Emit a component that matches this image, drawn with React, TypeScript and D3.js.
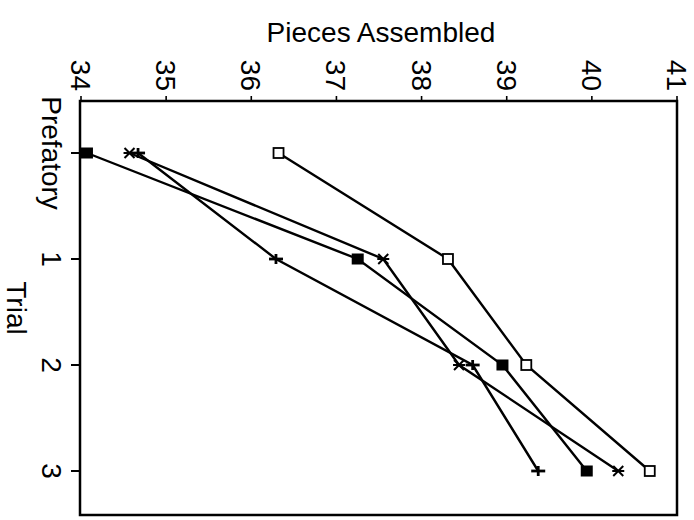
import React from "react";
import * as d3 from "d3";

const trials = ["Prefatory", "1", "2", "3"];
const valueTicks = [34, 35, 36, 37, 38, 39, 40, 41];
const openSquare = [36.32, 38.31, 39.23, 40.68];
const filledSquare = [34.07, 37.25, 38.95, 39.94];
const asterisk = [34.57, 37.55, 38.44, 40.31];
const plus = [34.67, 36.29, 38.6, 39.37];

const W = 694;
const H = 520;
const FONT = "'Liberation Sans', Arial, Helvetica, sans-serif";

export default function App() {
  const frame = { left: 80, right: 677, top: 101, bottom: 515 };
  const x = d3.scaleLinear().domain([34, 41]).range([81, 677]);
  const y = d3.scaleLinear().domain([0, 3]).range([153, 471]);

  const line = d3
    .line<number>()
    .x((d) => x(d))
    .y((_, i) => y(i));

  const series = [
    { key: "open", data: openSquare },
    { key: "filled", data: filledSquare },
    { key: "ast", data: asterisk },
    { key: "plus", data: plus },
  ];

  const marker = (key: string, cx: number, cy: number, k: string) => {
    if (key === "open")
      return (
        <rect key={k} x={cx - 5} y={cy - 5} width={10} height={10} fill="#fff" stroke="#000" strokeWidth={1.8} />
      );
    if (key === "filled")
      return <rect key={k} x={cx - 6} y={cy - 5.5} width={12} height={11} fill="#000" />;
    if (key === "ast")
      return (
        <g key={k} stroke="#000" strokeWidth={2}>
          <line x1={cx - 5} y1={cy - 5} x2={cx + 5} y2={cy + 5} />
          <line x1={cx - 5} y1={cy + 5} x2={cx + 5} y2={cy - 5} />
          <line x1={cx - 6} y1={cy} x2={cx + 6} y2={cy} />
        </g>
      );
    return (
      <g key={k} stroke="#000" strokeWidth={2.8}>
        <line x1={cx - 7} y1={cy} x2={cx + 7} y2={cy} />
        <line x1={cx} y1={cy - 5} x2={cx} y2={cy + 5} />
      </g>
    );
  };

  return (
    <svg
      width={W}
      height={H}
      style={{ position: "absolute", left: 0, top: 0, background: "#fff" }}
      fontFamily={FONT}
    >
      <rect x={0} y={0} width={W} height={H} fill="#fff" />
      {/* title */}
      <text x={381} y={42} fontSize={28} textAnchor="middle" fill="#000">
        Pieces Assembled
      </text>
      {/* frame */}
      <rect
        x={frame.left}
        y={frame.top}
        width={frame.right - frame.left}
        height={frame.bottom - frame.top}
        fill="none"
        stroke="#000"
        strokeWidth={2.5}
      />
      {/* value ticks */}
      {valueTicks.map((t) => (
        <g key={"v" + t}>
          <line x1={x(t)} x2={x(t)} y1={frame.top} y2={frame.top - 5} stroke="#000" strokeWidth={1.6} />
          <text
            transform={`translate(${x(t) - 10},${frame.top - 10}) rotate(90)`}
            fontSize={28}
            textAnchor="end"
            fill="#000"
          >
            {t}
          </text>
        </g>
      ))}
      {/* category ticks */}
      {trials.map((c, i) => (
        <g key={"c" + i}>
          <line x1={frame.left} x2={frame.left - 9} y1={y(i)} y2={y(i)} stroke="#000" strokeWidth={2} />
          <text
            transform={`translate(42,${y(i)}) rotate(90)`}
            fontSize={28}
            textAnchor="middle"
            fill="#000"
          >
            {c}
          </text>
        </g>
      ))}
      <text transform={`translate(7,308) rotate(90)`} fontSize={28} textAnchor="middle" fill="#000">
        Trial
      </text>
      {/* lines */}
      {series.map((s) => (
        <path key={"l" + s.key} d={line(s.data) || ""} fill="none" stroke="#000" strokeWidth={2.4} />
      ))}
      {/* markers */}
      {series.map((s) => s.data.map((v, i) => marker(s.key, x(v), y(i), s.key + i)))}
    </svg>
  );
}
